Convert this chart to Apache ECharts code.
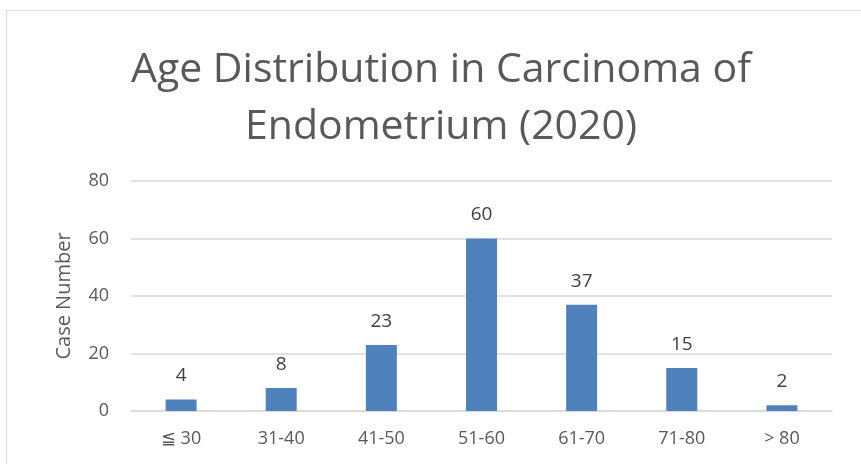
<!DOCTYPE html>
<html lang="en">
<head>
    <meta charset="UTF-8">
    <title>Age Distribution</title>
    <style type="text/css">
        *{
            margin: 0px;
            padding: 0px;
        }
        body{
            background-color: #fff;
            overflow: hidden;
        }
        .frame{
            position: absolute;
            left: 6px;
            top: 10px;
            width: 900px;
            height: 500px;
            border: 1px solid #d9d9d9;
        }
        #chart{
            position: absolute;
            left: 0px;
            top: 0px;
            width: 861px;
            height: 464px;
        }
    </style>
</head>
<body>
<div class="frame"></div>
<div id="chart"></div>

<script src="https://cdn.jsdelivr.net/npm/echarts@6/dist/echarts.min.js"></script>
<script type="text/javascript">
    var categories = ['≦ 30', '31-40', '41-50', '51-60', '61-70', '71-80', '> 80'];
    var caseNumbers = [4, 8, 23, 60, 37, 15, 2];
    var yTicks = [0, 20, 40, 60, 80];

    var myChart = echarts.init(document.getElementById('chart'));
    var font = 'Open Sans';

    var option = {
        animation: false,
        title: {
            text: 'Age Distribution in Carcinoma of\nEndometrium (2020)',
            left: 436,
            textAlign: 'center',
            top: 37,
            textStyle: {
                fontFamily: font,
                fontSize: 41,
                fontWeight: 'normal',
                color: '#595959',
                lineHeight: 57
            }
        },
        grid: {
            left: 131,
            right: 29,
            top: 181,
            bottom: 53
        },
        xAxis: {
            type: 'category',
            data: categories,
            axisTick: { show: false },
            axisLine: { lineStyle: { color: '#d9d9d9', width: 1.5 } },
            axisLabel: {
                margin: 19,
                fontFamily: font,
                fontSize: 18,
                color: '#595959'
            }
        },
        yAxis: {
            type: 'value',
            min: yTicks[0],
            max: yTicks[yTicks.length - 1],
            interval: 20,
            name: 'Case Number',
            nameLocation: 'middle',
            nameGap: 57,
            nameTextStyle: {
                fontFamily: font,
                fontSize: 20,
                color: '#595959'
            },
            axisLine: { show: false },
            axisTick: { show: false },
            axisLabel: {
                margin: 22,
                fontFamily: font,
                fontSize: 18,
                color: '#595959'
            },
            splitLine: { lineStyle: { color: '#d9d9d9', width: 1.5 } }
        },
        series: [{
            type: 'bar',
            data: caseNumbers,
            barWidth: 31,
            itemStyle: { color: '#4f81bd' },
            label: {
                show: true,
                position: 'top',
                distance: 14,
                fontFamily: font,
                fontSize: 19,
                color: '#404040'
            }
        }]
    };
    myChart.setOption(option);
</script>
</body>
</html>
